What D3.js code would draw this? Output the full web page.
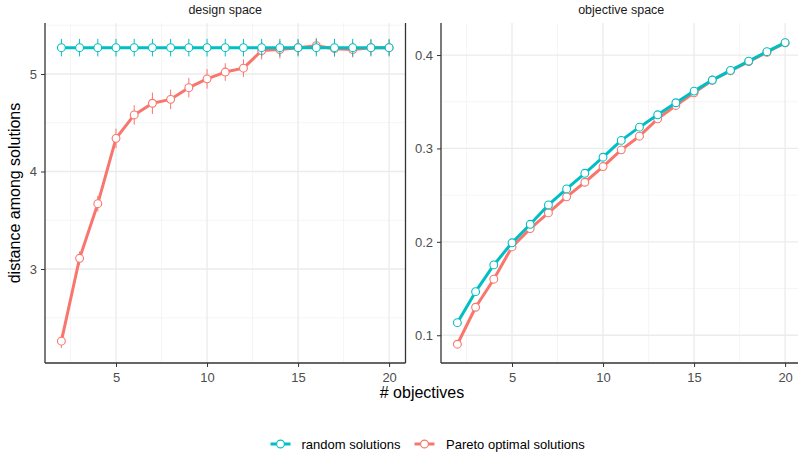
<!DOCTYPE html>
<html><head><meta charset="utf-8">
<script src="https://cdn.jsdelivr.net/npm/d3@7"></script>
<style>body{margin:0;background:#fff}svg{display:block;font-family:"Liberation Sans",Arial,Helvetica,sans-serif}</style>
</head><body><svg id="c" width="798" height="455"></svg>
<script>
const objectives = [2,3,4,5,6,7,8,9,10,11,12,13,14,15,16,17,18,19,20];
const seriesNames = ["random solutions","Pareto optimal solutions"];
const panelTitles = ["design space","objective space"];
// design space
const designRandom = [5.27,5.27,5.27,5.27,5.27,5.27,5.27,5.27,5.27,5.27,5.27,5.27,5.27,5.27,5.27,5.27,5.27,5.27,5.27];
const designRandomErr = [0.09,0.09,0.09,0.09,0.09,0.09,0.09,0.09,0.09,0.09,0.09,0.09,0.09,0.09,0.09,0.09,0.09,0.09,0.09];
const designPareto = [2.26,3.11,3.67,4.34,4.58,4.70,4.74,4.86,4.95,5.02,5.06,5.24,5.25,5.27,5.29,5.26,5.25,5.27,5.27];
const designParetoErr = [0.07,0.07,0.08,0.10,0.10,0.11,0.10,0.10,0.10,0.09,0.09,0.09,0.09,0.08,0.08,0.08,0.08,0.08,0.08];
// objective space
const objRandom = [0.1135,0.1467,0.1753,0.1990,0.2188,0.2395,0.2567,0.2734,0.2906,0.3086,0.3228,0.3360,0.3489,0.3614,0.3732,0.3835,0.3935,0.4036,0.4133];
const objRandomErr = [0.003,0.003,0.003,0.003,0.003,0.003,0.003,0.003,0.003,0.003,0.003,0.003,0.003,0.003,0.003,0.003,0.003,0.003,0.003];
const objPareto = [0.0904,0.1300,0.1600,0.1946,0.2142,0.2310,0.2482,0.2638,0.2806,0.2985,0.3131,0.3317,0.3460,0.3595,0.3730,0.3830,0.3930,0.4030,0.4130];
const objParetoErr = [0.003,0.003,0.003,0.003,0.003,0.003,0.003,0.003,0.003,0.003,0.003,0.003,0.003,0.003,0.003,0.003,0.003,0.003,0.003];
const xTicks = [5,10,15,20];
const designYTicks = [3,4,5];
const objYTicks = [0.1,0.2,0.3,0.4];
const designYMinor = [2.5,3.5,4.5,5.5];
const objYMinor = [0.15,0.25,0.35];
const xMinor = [2.5,7.5,12.5,17.5];

const colors = ["#00BFC4","#F8766D"];
const svg = d3.select("#c");
const pTop = 23, pBottom = 363;

const panels = [
  {title: panelTitles[0], x0: 45, x1: 405.5, yDom: [2.036,5.523], yTicks: designYTicks, yMinor: designYMinor,
   series: [{v: designPareto, e: designParetoErr, c: colors[1]}, {v: designRandom, e: designRandomErr, c: colors[0]}], rightBorder: true, fmt: d3.format("d")},
  {title: panelTitles[1], x0: 441, x1: 801.5, yDom: [0.0703,0.4343], yTicks: objYTicks, yMinor: objYMinor,
   series: [{v: objPareto, e: objParetoErr, c: colors[1]}, {v: objRandom, e: objRandomErr, c: colors[0]}], rightBorder: false, fmt: d3.format(".1f")}
];

panels.forEach(p => {
  const x = d3.scaleLinear().domain([1.1,20.9]).range([p.x0,p.x1]);
  const y = d3.scaleLinear().domain(p.yDom).range([pBottom,pTop]);
  const g = svg.append("g");
  // grid
  g.selectAll(".gxm").data(xMinor).join("line").attr("x1",d=>x(d)).attr("x2",d=>x(d)).attr("y1",pTop).attr("y2",pBottom).attr("stroke","#F0F0F0").attr("stroke-width",0.7);
  g.selectAll(".gym").data(p.yMinor).join("line").attr("x1",p.x0).attr("x2",p.x1).attr("y1",d=>y(d)).attr("y2",d=>y(d)).attr("stroke","#F0F0F0").attr("stroke-width",0.7);
  g.selectAll(".gx").data(xTicks).join("line").attr("x1",d=>x(d)).attr("x2",d=>x(d)).attr("y1",pTop).attr("y2",pBottom).attr("stroke","#EBEBEB").attr("stroke-width",1.3);
  g.selectAll(".gy").data(p.yTicks).join("line").attr("x1",p.x0).attr("x2",p.x1).attr("y1",d=>y(d)).attr("y2",d=>y(d)).attr("stroke","#EBEBEB").attr("stroke-width",1.3);
  // axes
  const ax = g.append("g").attr("transform",`translate(0,${pBottom})`).call(d3.axisBottom(x).tickValues(xTicks).tickSize(4).tickPadding(5.5));
  const ay = g.append("g").attr("transform",`translate(${p.x0},0)`).call(d3.axisLeft(y).tickValues(p.yTicks).tickFormat(p.fmt).tickSize(4).tickPadding(4));
  [ax,ay].forEach(a => {
    a.select(".domain").remove();
    a.selectAll(".tick line").attr("stroke","#333333").attr("stroke-width",1);
    a.selectAll(".tick text").attr("fill","#4D4D4D").style("font-size","13px");
  });
  g.append("line").attr("x1",p.x0).attr("x2",p.x0).attr("y1",pTop).attr("y2",pBottom).attr("stroke","#333").attr("stroke-width",1.3);
  g.append("line").attr("x1",p.x0).attr("x2",Math.min(p.x1,798)).attr("y1",pBottom).attr("y2",pBottom).attr("stroke","#333").attr("stroke-width",1.3);
  if (p.rightBorder) g.append("line").attr("x1",p.x1).attr("x2",p.x1).attr("y1",pTop).attr("y2",pBottom).attr("stroke","#333").attr("stroke-width",1.3);
  // title
  svg.append("text").attr("x",(p.x0+p.x1)/2).attr("y",13.5).attr("text-anchor","middle").attr("fill","#1A1A1A").style("font-size","12.5px").text(p.title);
  // series
  const clip = "clip"+Math.round(p.x0);
  svg.append("clipPath").attr("id",clip).append("rect").attr("x",p.x0).attr("y",pTop-10).attr("width",p.x1-p.x0).attr("height",pBottom-pTop+10);
  const sg = g.append("g").attr("clip-path",`url(#${clip})`);
  p.series.forEach(s => {
    const data = objectives.map((o,i)=>({o, v:s.v[i], e:s.e[i]}));
    sg.append("g").selectAll("line").data(data).join("line")
      .attr("x1",d=>x(d.o)).attr("x2",d=>x(d.o)).attr("y1",d=>y(d.v-d.e)).attr("y2",d=>y(d.v+d.e))
      .attr("stroke",s.c).attr("stroke-width",1);
    sg.append("path").datum(data).attr("fill","none").attr("stroke",s.c).attr("stroke-width",3)
      .attr("stroke-linejoin","round").attr("d",d3.line().x(d=>x(d.o)).y(d=>y(d.v)));
    sg.append("g").selectAll("circle").data(data).join("circle")
      .attr("cx",d=>x(d.o)).attr("cy",d=>y(d.v)).attr("r",3.9)
      .attr("fill","#fff").attr("stroke",s.c).attr("stroke-width",1.1);
  });
});

// axis titles
svg.append("text").attr("x",422).attr("y",398).attr("text-anchor","middle").attr("fill","#000").style("font-size","16px").text("# objectives");
svg.append("text").attr("transform","translate(20,193) rotate(-90)").attr("text-anchor","middle").attr("fill","#000").style("font-size","16px").text("distance among solutions");

// legend
const leg = svg.append("g");
const legItems = [{name: seriesNames[0], c: colors[0], kx: 270.5, tx: 301.5},{name: seriesNames[1], c: colors[1], kx: 414.5, tx: 446}];
legItems.forEach(it => {
  leg.append("line").attr("x1",it.kx).attr("x2",it.kx+20).attr("y1",444).attr("y2",444).attr("stroke",it.c).attr("stroke-width",3);
  leg.append("circle").attr("cx",it.kx+10).attr("cy",444).attr("r",3.9).attr("fill","#fff").attr("stroke",it.c).attr("stroke-width",1.1);
  leg.append("text").attr("x",it.tx).attr("y",448.5).attr("fill","#000").style("font-size","13px").text(it.name);
});
</script></body></html>
